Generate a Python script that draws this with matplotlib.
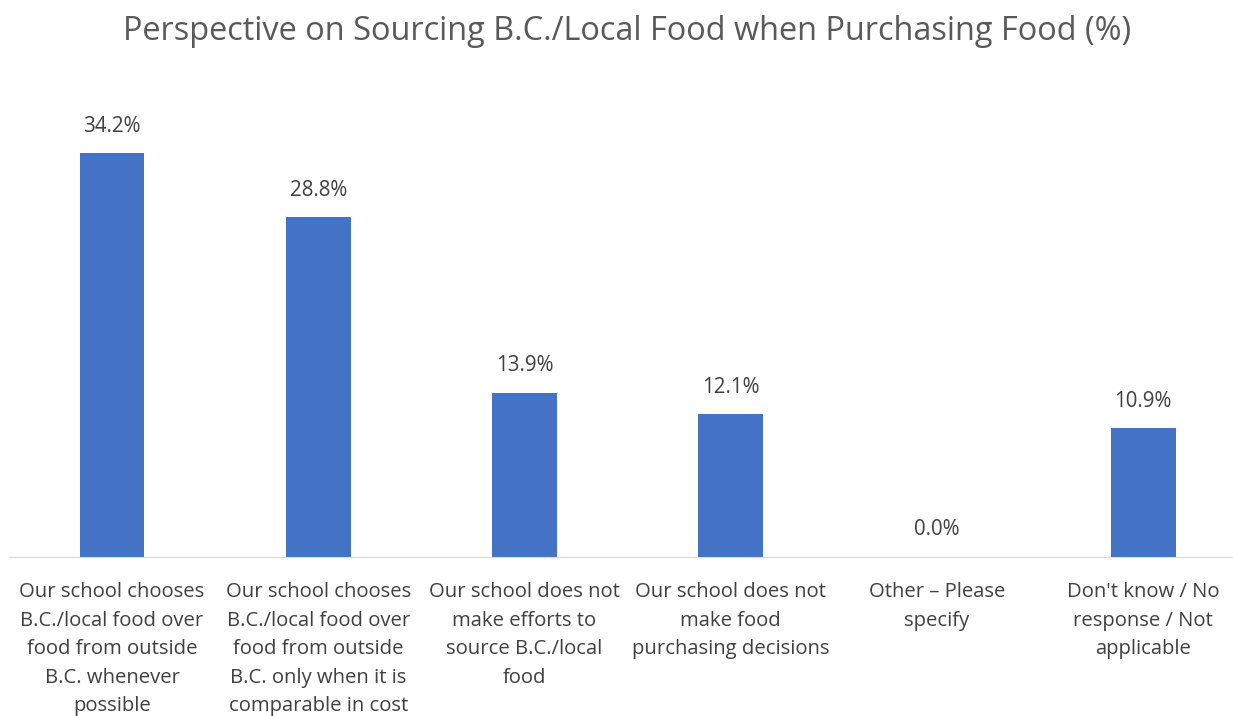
import matplotlib.pyplot as plt

plt.rcParams['font.family'] = ['Open Sans', 'DejaVu Sans']

categories = [
    "Our school chooses\nB.C./local food over\nfood from outside\nB.C. whenever\npossible",
    "Our school chooses\nB.C./local food over\nfood from outside\nB.C. only when it is\ncomparable in cost",
    "Our school does not\nmake efforts to\nsource B.C./local\nfood",
    "Our school does not\nmake food\npurchasing decisions",
    "Other \u2013 Please\nspecify",
    "Don't know / No\nresponse / Not\napplicable",
]
values = [34.2, 28.8, 13.9, 12.1, 0.0, 10.9]

fig = plt.figure(figsize=(12.33, 7.16), dpi=100)
ax = fig.add_axes([9 / 1233, 159 / 716, 1224 / 1233, 472 / 716])

x = list(range(len(values)))
bars = ax.bar(x, values, width=0.315, color='#4472C4')
for xi, v in zip(x, values):
    ax.text(xi, v + 1.4, f"{v:.1f}%", ha='center', va='bottom',
            fontsize=14.8, color='#404040')

ax.set_xlim(-0.4995, 5.436)
ax.set_ylim(0, 40)
ax.set_yticks([])
ax.set_xticks(x)
ax.set_xticklabels(categories, fontsize=14.6, color='#404040', linespacing=1.57)
ax.tick_params(axis='x', length=0, pad=18)
for s in ['top', 'right', 'left']:
    ax.spines[s].set_visible(False)
ax.spines['bottom'].set_color('#D9D9D9')

fig.text(627 / 1233, 1 - 31 / 716, "Perspective on Sourcing B.C./Local Food when Purchasing Food (%)",
         ha='center', va='center', fontsize=23.4, color='#595959')

fig.savefig('out.png', dpi=100)
